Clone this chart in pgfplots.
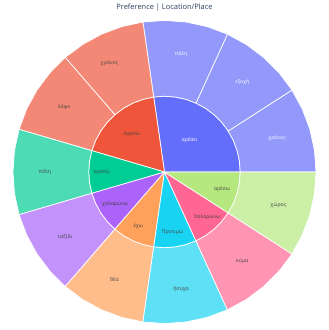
\documentclass[border=0pt]{standalone}
\usepackage{pgfplots}
\usepackage{pgfplotstable}
\pgfplotsset{compat=1.18}
\usepackage{fontspec}
\setmainfont{Open Sans}
\definecolor{cB}{HTML}{636EFA}
\definecolor{cR}{HTML}{EF553B}
\definecolor{cG}{HTML}{00CC96}
\definecolor{cP}{HTML}{AB63FA}
\definecolor{cO}{HTML}{FFA15A}
\definecolor{cC}{HTML}{19D3F3}
\definecolor{cK}{HTML}{FF6692}
\definecolor{cL}{HTML}{B6E880}
\definecolor{titlec}{HTML}{2A3F5F}
\definecolor{labc}{HTML}{444444}
% labels: angle (deg), radius, text
\pgfplotstableread{
a r lab
52 41 αρέσει
82 120 πόλη
49 119 εξοχή
16.7 118 χρόνος
}\whitelabels
\pgfplotstableread{
a r lab
131 50 Αγαπώ
180 63 αγαπώ
212.6 59 χαλαρώνω
244 60 έχω
277.6 60.5 Προτιμώ
313.7 62 Χαλαρώνω
343.7 60 αρέσω
116.8 122 χρόνος
147 120 λόφο
180 120 πόλη
213 119 ταξίδι
245 119 θέα
278 119 ήσυχα
311 119 κύμα
344 119 χώρος
}\darklabels
\begin{document}
\begin{tikzpicture}
\begin{axis}[scale only axis, width=330bp, height=330bp,
  xmin=-165, xmax=165, ymin=-158.5, ymax=171.5,
  axis line style={draw=none}, ticks=none, clip=false,
  title={Preference | Location/Place},
  title style={at={(axis description cs:0.5,0.9636)}, anchor=center, font=\fontsize{7.5}{9}\selectfont, text=titlec},
  every axis plot/.append style={data cs=polar, draw=white, line width=0.7bp, line join=round, mark=none},
]
% inner ring
\addplot[fill=cB] coordinates {(0,0)(0,76)(8.18,76)(16.36,76)(24.55,76)(32.73,76)(40.91,76)(49.09,76)(57.27,76)(65.45,76)(73.64,76)(81.82,76)(90,76)(98.18,76)(0,0)};
\addplot[fill=cR] coordinates {(0,0)(98.18,76)(106.36,76)(114.55,76)(122.73,76)(130.91,76)(139.09,76)(147.27,76)(155.45,76)(163.64,76)(0,0)};
\addplot[fill=cG] coordinates {(0,0)(163.64,76)(171.82,76)(180,76)(188.18,76)(196.36,76)(0,0)};
\addplot[fill=cP] coordinates {(0,0)(196.36,76)(204.55,76)(212.73,76)(220.91,76)(229.09,76)(0,0)};
\addplot[fill=cO] coordinates {(0,0)(229.09,76)(237.27,76)(245.45,76)(253.64,76)(261.82,76)(0,0)};
\addplot[fill=cC] coordinates {(0,0)(261.82,76)(270,76)(278.18,76)(286.36,76)(294.55,76)(0,0)};
\addplot[fill=cK] coordinates {(0,0)(294.55,76)(302.73,76)(310.91,76)(319.09,76)(327.27,76)(0,0)};
\addplot[fill=cL] coordinates {(0,0)(327.27,76)(335.45,76)(343.64,76)(351.82,76)(360,76)(0,0)};
% outer ring
\addplot[fill=cB!70!white] coordinates {(0,152)(8.18,152)(16.36,152)(24.55,152)(32.73,152)(32.73,76)(24.55,76)(16.36,76)(8.18,76)(0,76)(0,152)};
\addplot[fill=cB!70!white] coordinates {(32.73,152)(40.91,152)(49.09,152)(57.27,152)(65.45,152)(65.45,76)(57.27,76)(49.09,76)(40.91,76)(32.73,76)(32.73,152)};
\addplot[fill=cB!70!white] coordinates {(65.45,152)(73.64,152)(81.82,152)(90,152)(98.18,152)(98.18,76)(90,76)(81.82,76)(73.64,76)(65.45,76)(65.45,152)};
\addplot[fill=cR!70!white] coordinates {(98.18,152)(106.36,152)(114.55,152)(122.73,152)(130.91,152)(130.91,76)(122.73,76)(114.55,76)(106.36,76)(98.18,76)(98.18,152)};
\addplot[fill=cR!70!white] coordinates {(130.91,152)(139.09,152)(147.27,152)(155.45,152)(163.64,152)(163.64,76)(155.45,76)(147.27,76)(139.09,76)(130.91,76)(130.91,152)};
\addplot[fill=cG!70!white] coordinates {(163.64,152)(171.82,152)(180,152)(188.18,152)(196.36,152)(196.36,76)(188.18,76)(180,76)(171.82,76)(163.64,76)(163.64,152)};
\addplot[fill=cP!70!white] coordinates {(196.36,152)(204.55,152)(212.73,152)(220.91,152)(229.09,152)(229.09,76)(220.91,76)(212.73,76)(204.55,76)(196.36,76)(196.36,152)};
\addplot[fill=cO!70!white] coordinates {(229.09,152)(237.27,152)(245.45,152)(253.64,152)(261.82,152)(261.82,76)(253.64,76)(245.45,76)(237.27,76)(229.09,76)(229.09,152)};
\addplot[fill=cC!70!white] coordinates {(261.82,152)(270,152)(278.18,152)(286.36,152)(294.55,152)(294.55,76)(286.36,76)(278.18,76)(270,76)(261.82,76)(261.82,152)};
\addplot[fill=cK!70!white] coordinates {(294.55,152)(302.73,152)(310.91,152)(319.09,152)(327.27,152)(327.27,76)(319.09,76)(310.91,76)(302.73,76)(294.55,76)(294.55,152)};
\addplot[fill=cL!70!white] coordinates {(327.27,152)(335.45,152)(343.64,152)(351.82,152)(360,152)(360,76)(351.82,76)(343.64,76)(335.45,76)(327.27,76)(327.27,152)};
% labels
\addplot[draw=none, nodes near coords, point meta=explicit symbolic,
  every node near coord/.style={anchor=center, font=\fontsize{5.2}{6}\selectfont, text=white}]
  table[x=a, y=r, meta=lab] {\whitelabels};
\addplot[draw=none, nodes near coords, point meta=explicit symbolic,
  every node near coord/.style={anchor=center, font=\fontsize{5.2}{6}\selectfont, text=labc}]
  table[x=a, y=r, meta=lab] {\darklabels};
\end{axis}
\end{tikzpicture}
\end{document}
